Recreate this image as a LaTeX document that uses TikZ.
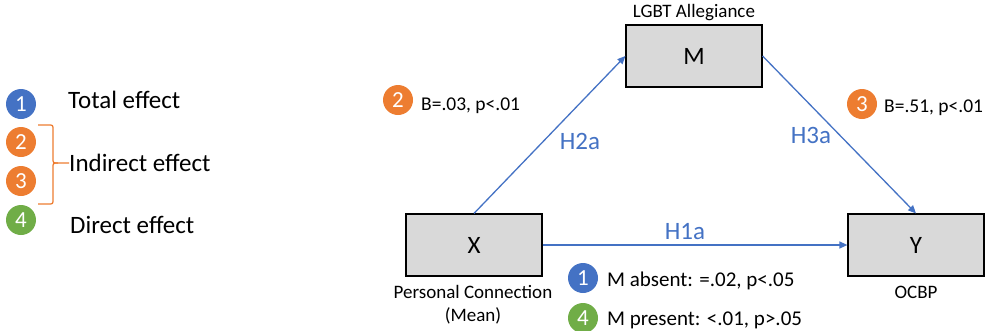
\documentclass[tikz,border=0pt]{standalone}
\usepackage{fontspec}
\setmainfont{Carlito}
\usetikzlibrary{arrows.meta}
\definecolor{pathblue}{HTML}{4472C4}
\definecolor{effblue}{HTML}{4472C4}
\definecolor{efforange}{HTML}{ED7D31}
\definecolor{effgreen}{HTML}{70AD47}
\definecolor{boxgray}{HTML}{D9D9D9}
\tikzset{
  varbox/.style={draw=black, line width=1.2pt, fill=boxgray, minimum width=136pt,
    minimum height=62pt, inner sep=0pt, font=\fontsize{25}{29}\selectfont},
  badge/.style={circle, minimum size=30pt, inner sep=0pt, text=white,
    font=\fontsize{23}{26}\selectfont},
  pathline/.style={draw=pathblue, line width=1.3pt, -{Triangle[length=8pt,width=7pt]}},
  hyplabel/.style={text=pathblue, font=\fontsize{25}{29}\selectfont},
  stat/.style={anchor=base west, inner sep=0pt, font=\fontsize{19.5}{23}\selectfont},
  bigstat/.style={stat, font=\fontsize{21}{25}\selectfont},
  caption/.style={inner sep=0pt, font=\fontsize{19}{22}\selectfont},
  legend/.style={anchor=base west, inner sep=0pt, font=\fontsize{25}{29}\selectfont}
}
\begin{document}
\begin{tikzpicture}[x=1pt, y=-1pt]
\useasboundingbox (0,0) rectangle (988,330);

% legend of effects
\node[badge, fill=effblue]   (l1) at (21,104) {1};
\node[badge, fill=efforange] (l2) at (21,142) {2};
\node[badge, fill=efforange] (l3) at (21,181) {3};
\node[badge, fill=effgreen]  (l4) at (21,220) {4};
\node[legend] (ltot) at (68,108) {Total effect};
\node[legend] (lind) at (69,171) {Indirect effect};
\node[legend] (ldir) at (70,233) {Direct effect};
\coordinate (bt) at (38,125);
\coordinate (bb) at (38,204);
\draw[efforange, line width=1.3pt]
  (bt) -- (48,125) .. controls (53,125) .. (53,130) -- (53,158)
  .. controls (53,163) .. (58,163) -- (lind.west |- 0,163);
\draw[efforange, line width=1.3pt]
  (bb) -- (48,204) .. controls (53,204) .. (53,199) -- (53,168)
  .. controls (53,163) .. (58,163);

% mediation model
\node[varbox] (M) at (694,56) {M};
\node[varbox] (X) at (474,245) {X};
\node[varbox] (Y) at (916,245) {Y};

\node[caption] (Mcap) at (694,13) {LGBT Allegiance};
\node[caption] (Xcap1) at (473,292) {Personal Connection};
\node[caption] (Xcap2) at (473,316) {(Mean)};
\node[caption] (Ycap) at (916,292) {OCBP};

\draw[pathline] (X.north) -- (M.west);
\draw[pathline] (M.east) -- (Y.north);
\draw[pathline] (X.east) -- (Y.west);

\node[hyplabel] (h2) at (580,141) {H2a};
\node[hyplabel] (h3) at (811,135) {H3a};
\node[hyplabel] (h1) at (685,232) {H1a};

% path coefficients
\node[badge, fill=efforange] (b2) at (398,100) {2};
\node[stat] (s2) at (421,110) {B=.03, p<.01};
\node[badge, fill=efforange] (b3) at (862,104) {3};
\node[stat] (s3) at (884,112) {B=.51, p<.01};
\node[badge, fill=effblue]   (b1) at (583,278) {1};
\node[bigstat] (s1) at (607,286) {M absent: =.02, p<.05};
\node[badge, fill=effgreen]  (b4) at (583,318) {4};
\node[bigstat] (s4) at (607,325) {M present: <.01, p>.05};
\end{tikzpicture}
\end{document}
